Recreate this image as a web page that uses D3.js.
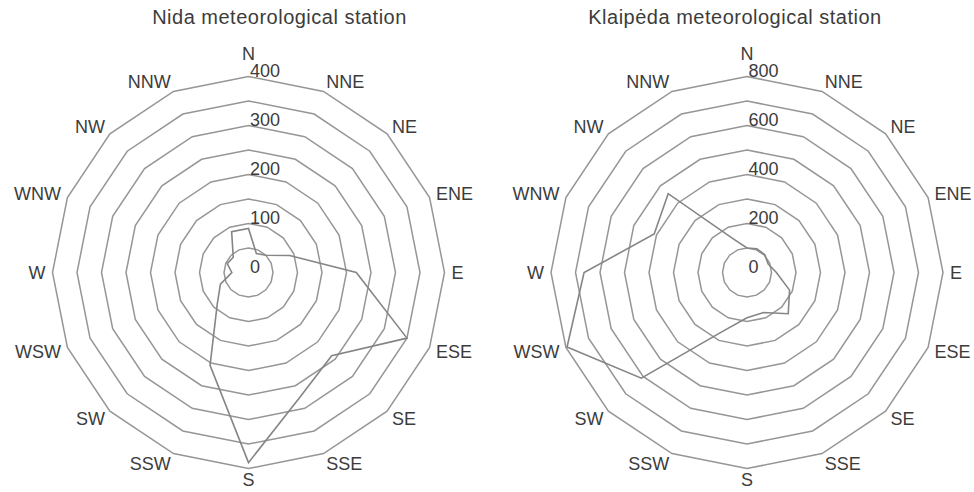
<!DOCTYPE html>
<html>
<head>
<meta charset="utf-8">
<script src="https://cdn.jsdelivr.net/npm/d3@7"></script>
<style>
  body { margin: 0; background: #fff; }
  svg { display: block; }
  text { font-family: "Liberation Sans", Arial, Helvetica, sans-serif; fill: #3c3c3c; }
</style>
</head>
<body>
<svg id="chart" width="974" height="492"></svg>
<script>
// Wind directions, clockwise from north
const directions = ["N", "NNE", "NE", "ENE", "E", "ESE", "SE", "SSE",
                    "S", "SSW", "SW", "WSW", "W", "WNW", "NW", "NNW"];

// Number of cases per direction
const nidaValues     = [90, 42, 50, 91, 220, 350, 240, 275, 388, 205, 90, 62, 34, 47, 44, 90];
const klaipedaValues = [100, 105, 103, 93, 120, 188, 238, 177, 185, 260, 610, 795, 665, 410, 455, 150];

// Grid rings and the values printed along the north axis
const nidaRings          = [50, 100, 150, 200, 250, 300, 350, 400];
const nidaTickLabels     = [0, 100, 200, 300, 400];
const klaipedaRings      = [100, 200, 300, 400, 500, 600, 700, 800];
const klaipedaTickLabels = [0, 200, 400, 600, 800];

const panels = [
  { title: "Nida meteorological station",     values: nidaValues,     rings: nidaRings,
    ticks: nidaTickLabels,     max: 400, cx: 248.5, titleX: 279.5 },
  { title: "Klaipėda meteorological station", values: klaipedaValues, rings: klaipedaRings,
    ticks: klaipedaTickLabels, max: 800, cx: 747,   titleX: 735 }
];

const svg = d3.select("#chart");
const cy = 272.5;
const outerR = 196;
const angle = d3.scaleLinear().domain([0, directions.length]).range([0, 2 * Math.PI]);

panels.forEach(p => {
  const r = d3.scaleLinear().domain([0, p.max]).range([0, outerR]);
  const g = svg.append("g");

  // Title
  svg.append("text")
    .attr("x", p.titleX).attr("y", 24)
    .attr("text-anchor", "middle")
    .style("font-size", "20px")
    .style("letter-spacing", "0.5px")
    .text(p.title);

  const plot = g.append("g").attr("transform", `translate(${p.cx},${cy})`);

  // Polygonal grid rings
  const ring = d3.lineRadial()
    .angle((d, i) => angle(i))
    .radius(d => r(d))
    .curve(d3.curveLinearClosed);

  plot.selectAll("path.ring")
    .data(p.rings)
    .join("path")
    .attr("class", "ring")
    .attr("d", v => ring(directions.map(() => v)))
    .attr("fill", "none")
    .attr("stroke", "#969696")
    .attr("stroke-width", 1.5);

  // Value labels along the north axis
  plot.selectAll("text.tick")
    .data(p.ticks)
    .join("text")
    .attr("class", "tick")
    .attr("x", 1.5)
    .attr("y", v => -r(v) + 0.5)
    .style("font-size", "18px")
    .text(v => v);

  // Data polygon
  const line = d3.lineRadial()
    .angle((d, i) => angle(i))
    .radius(d => r(d))
    .curve(d3.curveLinearClosed);

  plot.append("path")
    .attr("d", line(p.values))
    .attr("fill", "none")
    .attr("stroke", "#858585")
    .attr("stroke-width", 1.6)
    .attr("stroke-linejoin", "miter");

  // Direction labels
  const labelRx = outerR + 7;
  const labelRy = outerR + 11;
  plot.selectAll("text.dir")
    .data(directions)
    .join("text")
    .attr("class", "dir")
    .each(function (d, i) {
      const a = angle(i);
      const s = Math.sin(a), c = Math.cos(a);
      const sel = d3.select(this);
      if (Math.abs(s) < 1e-6) {
        sel.attr("text-anchor", "middle").attr("x", 0)
           .attr("y", -labelRy * c - (c > 0 ? 12 : 0));
      } else {
        sel.attr("text-anchor", s > 0 ? "start" : "end")
           .attr("x", labelRx * s)
           .attr("y", -labelRy * c);
      }
    })
    .attr("dy", "0.36em")
    .style("font-size", "18px")
    .text(d => d);
});
</script>
</body>
</html>
